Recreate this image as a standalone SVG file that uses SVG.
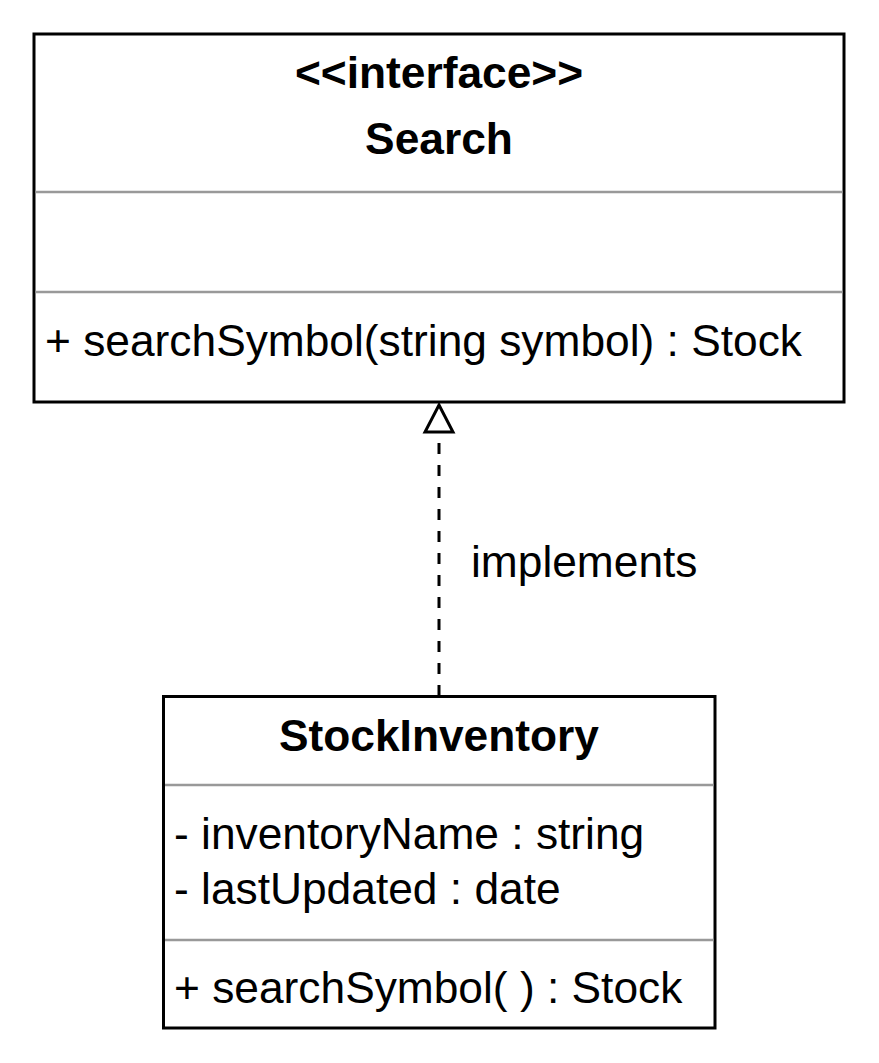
<svg xmlns="http://www.w3.org/2000/svg" width="879" height="1063" viewBox="0 0 879 1063">
<style>
.box{fill:#fff;stroke:#000;stroke-width:3}
.sep{stroke:#999;stroke-width:2.5;fill:none}
.t{font-family:"Liberation Sans",Arial,Helvetica,sans-serif;font-size:44.3px;fill:#000}
.b{font-weight:bold;text-anchor:middle}
.edge{stroke:#000;stroke-width:3;fill:none;stroke-dasharray:11 11}
</style>
<g id="connectors">
<line class="edge" x1="439" y1="696" x2="439" y2="432"/>
<path d="M439 405 L453 432 L425 432 Z" fill="#fff" stroke="#000" stroke-width="3"/>
<text class="t" x="471" y="577">implements</text>
</g>
<g id="Search">
<rect class="box" x="34" y="34" width="810" height="368"/>
<line class="sep" x1="35.5" y1="192" x2="842.5" y2="192"/>
<line class="sep" x1="35.5" y1="292" x2="842.5" y2="292"/>
<text class="t b" x="439" y="88">&lt;&lt;interface&gt;&gt;</text>
<text class="t b" x="439" y="154">Search</text>
<text class="t" x="45" y="356">+ searchSymbol(string symbol) : Stock</text>
</g>
<g id="StockInventory">
<rect class="box" x="163.5" y="696.5" width="551.5" height="331.5"/>
<line class="sep" x1="165" y1="785" x2="713.5" y2="785"/>
<line class="sep" x1="165" y1="940" x2="713.5" y2="940"/>
<text class="t b" x="439" y="751">StockInventory</text>
<text class="t" x="174" y="849">- inventoryName : string</text>
<text class="t" x="174" y="904">- lastUpdated : date</text>
<text class="t" x="174" y="1003">+ searchSymbol( ) : Stock</text>
</g>
</svg>
